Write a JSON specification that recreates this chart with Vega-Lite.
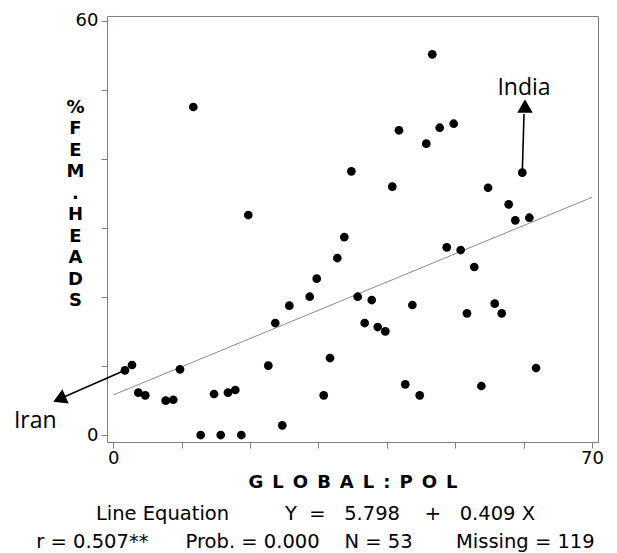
{
  "$schema": "https://vega.github.io/schema/vega-lite/v6.json",
  "width": 491,
  "height": 426,
  "autosize": {"type": "none"},
  "padding": {"left": 107, "top": 16, "right": 19, "bottom": 111},
  "background": "white",
  "config": {
    "view": {"stroke": "#808080", "strokeWidth": 1},
    "font": "DejaVu Sans"
  },
  "title": {
    "text": [
      "Line Equation\u00a0\u00a0\u00a0\u00a0\u00a0\u00a0\u00a0\u00a0\u00a0Y\u00a0\u00a0=\u00a0\u00a0\u00a05.798\u00a0\u00a0\u00a0\u00a0+\u00a0\u00a0\u00a00.409 X",
      "r = 0.507**\u00a0\u00a0\u00a0\u00a0\u00a0\u00a0Prob. = 0.000\u00a0\u00a0\u00a0\u00a0N = 53\u00a0\u00a0\u00a0\u00a0\u00a0\u00a0\u00a0Missing = 119"
    ],
    "orient": "bottom",
    "anchor": "middle",
    "frame": "group",
    "dx": -37,
    "font": "DejaVu Sans",
    "fontSize": 19.5,
    "fontWeight": "normal",
    "color": "black",
    "lineHeight": 28,
    "offset": 14
  },
  "layer": [
    {
      "data": {"values": [{"x": 0, "y": 5.798}, {"x": 70, "y": 34.428}]},
      "mark": {"type": "line", "color": "#8a8a8a", "strokeWidth": 1},
      "encoding": {
        "x": {"field": "x", "type": "quantitative"},
        "y": {"field": "y", "type": "quantitative"}
      }
    },
    {
      "data": {"values": [
        {"x": 11.70, "y": 47.50}, {"x": 19.74, "y": 31.86}, {"x": 46.65, "y": 55.13}, {"x": 41.78, "y": 44.13},
        {"x": 45.77, "y": 42.19}, {"x": 34.81, "y": 38.19}, {"x": 40.80, "y": 35.96}, {"x": 47.73, "y": 44.50},
        {"x": 49.78, "y": 45.08}, {"x": 59.81, "y": 37.99}, {"x": 54.80, "y": 35.81}, {"x": 57.82, "y": 33.41},
        {"x": 58.79, "y": 31.09}, {"x": 60.84, "y": 31.47}, {"x": 1.71, "y": 9.37}, {"x": 2.73, "y": 10.14},
        {"x": 9.75, "y": 9.51}, {"x": 3.66, "y": 6.13}, {"x": 4.68, "y": 5.75}, {"x": 7.66, "y": 4.97},
        {"x": 8.77, "y": 5.11}, {"x": 14.73, "y": 5.94}, {"x": 16.77, "y": 6.13}, {"x": 17.84, "y": 6.52},
        {"x": 12.78, "y": 0}, {"x": 15.71, "y": 0}, {"x": 18.72, "y": 0}, {"x": 22.67, "y": 10.04},
        {"x": 33.78, "y": 28.67}, {"x": 32.76, "y": 25.63}, {"x": 29.75, "y": 22.64}, {"x": 28.72, "y": 20.03},
        {"x": 25.74, "y": 18.73}, {"x": 23.69, "y": 16.22}, {"x": 35.74, "y": 20.03}, {"x": 37.79, "y": 19.55},
        {"x": 43.73, "y": 18.83}, {"x": 36.76, "y": 16.22}, {"x": 38.67, "y": 15.64}, {"x": 39.78, "y": 15.02},
        {"x": 31.69, "y": 11.15}, {"x": 42.70, "y": 7.34}, {"x": 44.81, "y": 5.75}, {"x": 30.77, "y": 5.75},
        {"x": 24.71, "y": 1.40}, {"x": 48.76, "y": 27.18}, {"x": 50.80, "y": 26.79}, {"x": 52.79, "y": 24.33},
        {"x": 55.78, "y": 19.02}, {"x": 51.72, "y": 17.62}, {"x": 56.80, "y": 17.62}, {"x": 61.82, "y": 9.70},
        {"x": 53.82, "y": 7.10}
      ]},
      "mark": {"type": "circle", "color": "black", "size": 76, "opacity": 1},
      "encoding": {
        "x": {
          "field": "x", "type": "quantitative",
          "scale": {"domain": [-0.92, 70.88], "nice": false, "zero": false},
          "axis": {
            "values": [0, 10, 20, 30, 40, 50, 60, 70],
            "labelExpr": "datum.value == 0 || datum.value == 70 ? datum.label : ''",
            "grid": false,
            "domainColor": "#808080",
            "tickColor": "#808080",
            "tickSize": 6,
            "labelFont": "DejaVu Sans",
            "labelFontSize": 18,
            "labelColor": "black",
            "labelPadding": 1,
            "labelFlush": false,
            "title": "G\u2002L\u2002O\u2002B\u2002A\u2002L\u2002:\u2002P\u2002O\u2002L",
            "titleFont": "DejaVu Sans",
            "titleFontWeight": "bold",
            "titleFontSize": 18,
            "titleColor": "black",
            "titleBaseline": "alphabetic",
            "titleY": 45
          }
        },
        "y": {
          "field": "y", "type": "quantitative",
          "scale": {"domain": [-1.01, 60.68], "nice": false, "zero": false},
          "axis": {
            "values": [0, 10, 20, 30, 40, 50, 60],
            "labelExpr": "datum.value == 0 || datum.value == 60 ? datum.label : ''",
            "grid": false,
            "domainColor": "#808080",
            "tickColor": "#808080",
            "tickSize": 6,
            "labelFont": "DejaVu Sans",
            "labelFontSize": 18,
            "labelColor": "black",
            "labelPadding": 3,
            "labelFlush": false,
            "title": ["%", "F", "E", "M", ".", "H", "E", "A", "D", "S"],
            "titleFont": "DejaVu Sans",
            "titleFontWeight": "bold",
            "titleFontSize": 18,
            "titleColor": "black",
            "titleAngle": 0,
            "titleAlign": "center",
            "titleBaseline": "alphabetic",
            "titleLineHeight": 21.5,
            "titleX": -32,
            "titleY": 96
          }
        }
      }
    },
    {
      "data": {"values": [
        {"x": 59.81, "y": 37.99, "x2": 60.06, "y2": 46.49},
        {"x": 1.71, "y": 9.37, "x2": -7.31, "y2": 5.46}
      ]},
      "mark": {"type": "rule", "color": "black", "strokeWidth": 1.6},
      "encoding": {
        "x": {"field": "x", "type": "quantitative"},
        "y": {"field": "y", "type": "quantitative"},
        "x2": {"field": "x2"},
        "y2": {"field": "y2"}
      }
    },
    {
      "data": {"values": [{"x": 60.2, "y": 47.65}]},
      "mark": {"type": "point", "shape": "triangle-up", "filled": true, "color": "black", "size": 240, "opacity": 1},
      "encoding": {
        "x": {"field": "x", "type": "quantitative"},
        "y": {"field": "y", "type": "quantitative"}
      }
    },
    {
      "data": {"values": [{"x": -7.88, "y": 5.21}]},
      "mark": {"type": "point", "shape": "triangle-up", "angle": 246, "filled": true, "color": "black", "size": 240, "opacity": 1},
      "encoding": {
        "x": {"field": "x", "type": "quantitative"},
        "y": {"field": "y", "type": "quantitative"}
      }
    },
    {
      "data": {"values": [
        {"label": "India", "x": 60.06, "y": 49.24},
        {"label": "Iran", "x": -11.41, "y": 0.97}
      ]},
      "mark": {"type": "text", "font": "Open Sans", "fontSize": 23, "align": "center", "baseline": "alphabetic", "color": "black"},
      "encoding": {
        "x": {"field": "x", "type": "quantitative"},
        "y": {"field": "y", "type": "quantitative"},
        "text": {"field": "label"}
      }
    }
  ]
}
